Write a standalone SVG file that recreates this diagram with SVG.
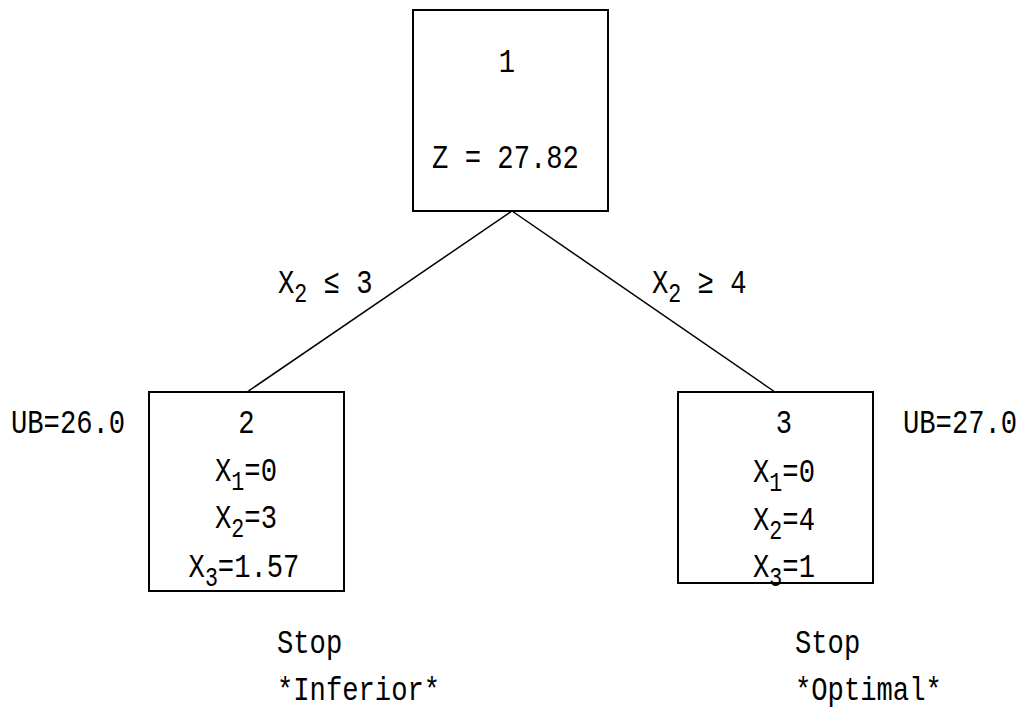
<svg xmlns="http://www.w3.org/2000/svg" width="1021" height="708" viewBox="0 0 1021 708">
<style>
text{font-family:"Liberation Mono","DejaVu Sans Mono",monospace;font-size:34px;fill:#000}
.m{text-anchor:middle}
.s{font-size:27px}
.box{fill:#fff;stroke:#000;stroke-width:2}
line{stroke:#000;stroke-width:1.5}
</style>
<rect width="1021" height="708" fill="#fff"/>
<g id="connectors">
<line x1="512" y1="211" x2="247" y2="392"/>
<line x1="512" y1="211" x2="775" y2="392"/>
<text transform="translate(278,293) scale(0.8,1)">X<tspan class="s" dy="9">2</tspan><tspan dy="-9"> ≤ 3</tspan></text>
<text transform="translate(652,293) scale(0.8,1)">X<tspan class="s" dy="9">2</tspan><tspan dy="-9"> ≥ 4</tspan></text>
</g>
<g id="node1">
<rect class="box" x="413" y="10" width="195" height="201"/>
<text class="m" transform="translate(507,72) scale(0.8,1)">1</text>
<text class="m" transform="translate(505.5,168) scale(0.8,1)">Z = 27.82</text>
</g>
<g id="node2">
<rect class="box" x="149" y="392" width="195" height="199"/>
<text class="m" transform="translate(246.5,433) scale(0.8,1)">2</text>
<text class="m" transform="translate(246,481) scale(0.8,1)">X<tspan class="s" dy="9">1</tspan><tspan dy="-9">=0</tspan></text>
<text class="m" transform="translate(246,528) scale(0.8,1)">X<tspan class="s" dy="9">2</tspan><tspan dy="-9">=3</tspan></text>
<text class="m" transform="translate(244,577) scale(0.8,1)">X<tspan class="s" dy="9">3</tspan><tspan dy="-9">=1.57</tspan></text>
</g>
<g id="ub2"><text transform="translate(11,433) scale(0.8,1)">UB=26.0</text></g>
<g id="stop2">
<text transform="translate(277,653) scale(0.8,1)">Stop</text>
<text transform="translate(277,700) scale(0.8,1)">*Inferior*</text>
</g>
<g id="node3">
<rect class="box" x="678" y="392" width="195" height="191"/>
<text class="m" transform="translate(784,433) scale(0.8,1)">3</text>
<text class="m" transform="translate(784,482) scale(0.8,1)">X<tspan class="s" dy="9">1</tspan><tspan dy="-9">=0</tspan></text>
<text class="m" transform="translate(784,530) scale(0.8,1)">X<tspan class="s" dy="9">2</tspan><tspan dy="-9">=4</tspan></text>
<text class="m" transform="translate(784,577) scale(0.8,1)">X<tspan class="s" dy="9">3</tspan><tspan dy="-9">=1</tspan></text>
</g>
<g id="ub3"><text transform="translate(903,433) scale(0.8,1)">UB=27.0</text></g>
<g id="stop3">
<text transform="translate(795,653) scale(0.8,1)">Stop</text>
<text transform="translate(795,700) scale(0.8,1)">*Optimal*</text>
</g>
</svg>
